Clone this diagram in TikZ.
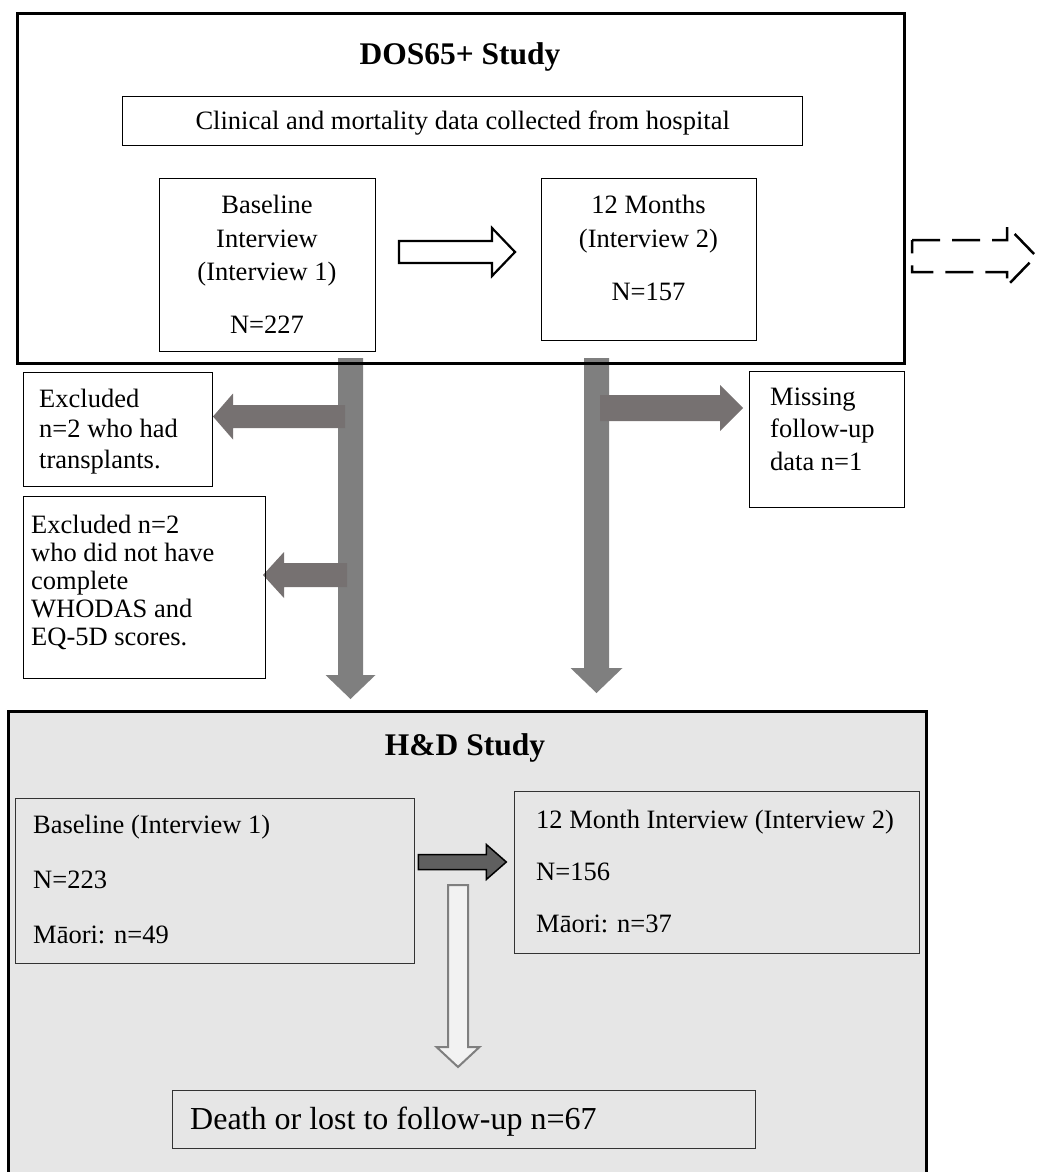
\documentclass[tikz,border=0pt]{standalone}
\usepackage{fontspec}
\setmainfont{Liberation Serif}
\definecolor{gmain}{HTML}{7F7F7F}
\definecolor{gbranch}{HTML}{767171}
\definecolor{hdfill}{HTML}{E6E6E6}
\definecolor{darkarrow}{HTML}{5F5F5F}
\definecolor{palearrow}{HTML}{F2F2F2}
\tikzset{
  frame/.style={draw=black, line width=3pt, inner sep=0pt, anchor=north west},
  box/.style={draw=black, line width=1.3pt, inner sep=0pt, anchor=north west},
  hdbox/.style={draw=black!80, line width=1.3pt, fill=hdfill, inner sep=0pt, anchor=north west},
  txt/.style={inner sep=0pt, font=\fontsize{26.5}{30}\selectfont},
  bigtxt/.style={inner sep=0pt, font=\fontsize{32}{36}\selectfont},
  ttl/.style={inner sep=0pt, font=\fontsize{31.5}{36}\selectfont\bfseries},
  % block arrow pointing along +x: length / shaft half width / head half width / head length
  pics/barrow/.style args={#1/#2/#3/#4}{code={
    \path[pic actions] (0,-#2) -- (#1-#4,-#2) -- (#1-#4,-#3) -- (#1,0)
      -- (#1-#4,#3) -- (#1-#4,#2) -- (0,#2) -- cycle;
  }},
  hollow/.style={draw=black, fill=white, line width=2.2pt, line join=miter},
  dashedarrow/.style={draw=black, line width=2.5pt, dash pattern=on 28pt off 12pt},
  mainarrow/.style={fill=gmain},
  brancharrow/.style={fill=gbranch},
  darkar/.style={fill=darkarrow, draw=black, line width=1.5pt},
  palear/.style={fill=palearrow, draw=gmain, line width=2pt}
}
\begin{document}
\begin{tikzpicture}[x=1pt, y=-1pt]
\useasboundingbox (0,0) rectangle (1037,1172);
\clip (0,0) rectangle (1037,1172);

% ---------- H&D study panel ----------
\node[frame, fill=hdfill, minimum width=918pt, minimum height=480pt] (hd) at (7,710) {};
\node[ttl, anchor=base] (hdtitle) at (465,755) {H\&D Study};

\node[hdbox, minimum width=399pt, minimum height=165pt] (hdb) at (15,798) {};
\node[txt, anchor=base west] (hdb1) at (33,833) {Baseline (Interview 1)};
\node[txt, anchor=base west] (hdb2) at (33,888) {N=223};
\node[txt, anchor=base west] (hdb3) at (33,943) {Māori: n=49};

\node[hdbox, minimum width=405pt, minimum height=162pt] (hdm) at (514,791) {};
\node[txt, anchor=base west] (hdm1) at (536,828) {12 Month Interview (Interview 2)};
\node[txt, anchor=base west] (hdm2) at (536,880) {N=156};
\node[txt, anchor=base west] (hdm3) at (536,932) {Māori: n=37};

\node[hdbox, minimum width=583pt, minimum height=58pt] (death) at (172,1090) {};
\node[bigtxt, anchor=base west] (deatht) at (190,1129) {Death or lost to follow-up n=67};

\coordinate (hdA) at (hdb.east |- 0,862);
\coordinate (hdB) at (458,885);
\pic[darkar] at ([xshift=3pt]hdA) {barrow=88/7.5/17.5/20};
\pic[palear, rotate=-90] at (hdB) {barrow=182/10/21.5/20};

% ---------- flows between the two studies ----------
\coordinate (vL) at (350.5,358);
\coordinate (vR) at (596.5,358);
\pic[mainarrow, rotate=-90] at (vL) {barrow=341/12.5/25/24};
\pic[mainarrow, rotate=-90] at (vR) {barrow=335/12.5/26/25};
\pic[brancharrow, rotate=180] at (345,416.5) {barrow=132/11.5/23/20};
\pic[brancharrow, rotate=180] at (347,575) {barrow=84/12/23/21};
\pic[brancharrow] at (600,408) {barrow=143/13/23/23};

% exclusion boxes
\node[box, minimum width=189pt, minimum height=114pt] (ex1) at (23,372) {};
\foreach \t [count=\i] in {Excluded, n=2 who had, transplants.}
  \node[txt, anchor=base west] (ex1l\i) at (39,407+30.5*\i-30.5) {\t};

\node[box, minimum width=242pt, minimum height=182pt] (ex2) at (23,496) {};
\foreach \t [count=\i] in {Excluded n=2, who did not have, complete, WHODAS and, EQ-5D scores.}
  \node[txt, anchor=base west] (ex2l\i) at (31,533+28*\i-28) {\t};

\node[box, minimum width=155pt, minimum height=136pt] (miss) at (749,371) {};
\foreach \t [count=\i] in {Missing, follow-up, data n=1}
  \node[txt, anchor=base west] (missl\i) at (770,405+32.5*\i-32.5) {\t};

% ---------- DOS65+ study panel ----------
\node[frame, minimum width=887pt, minimum height=350pt] (dos) at (16,12) {};
\node[ttl, anchor=base] (dostitle) at (460,65) {DOS65+ Study};

\node[box, minimum width=680pt, minimum height=49pt] (clin) at (122,96) {};
\node[txt, anchor=base] (clint) at (clin.center |- 0,129) {Clinical and mortality data collected from hospital};

\node[box, minimum width=216pt, minimum height=173pt] (base1) at (159,178) {};
\node[txt, anchor=base] (base1a) at (267,213) {Baseline};
\node[txt, anchor=base] (base1b) at (267,247) {Interview};
\node[txt, anchor=base] (base1c) at (267,280) {(Interview 1)};
\node[txt, anchor=base] (base1d) at (267,333) {N=227};

\node[box, minimum width=215pt, minimum height=162pt] (m12) at (541,178) {};
\node[txt, anchor=base] (m12a) at (648.5,213) {12 Months};
\node[txt, anchor=base] (m12b) at (648.5,247) {(Interview 2)};
\node[txt, anchor=base] (m12c) at (648.5,300) {N=157};

\coordinate (topA) at (399,252);
\pic[hollow] at (topA) {barrow=116/11/24/23};

\coordinate (outA) at (912,256);
\pic[dashedarrow] at (outA) {barrow=124/16/30/29};
\end{tikzpicture}
\end{document}
